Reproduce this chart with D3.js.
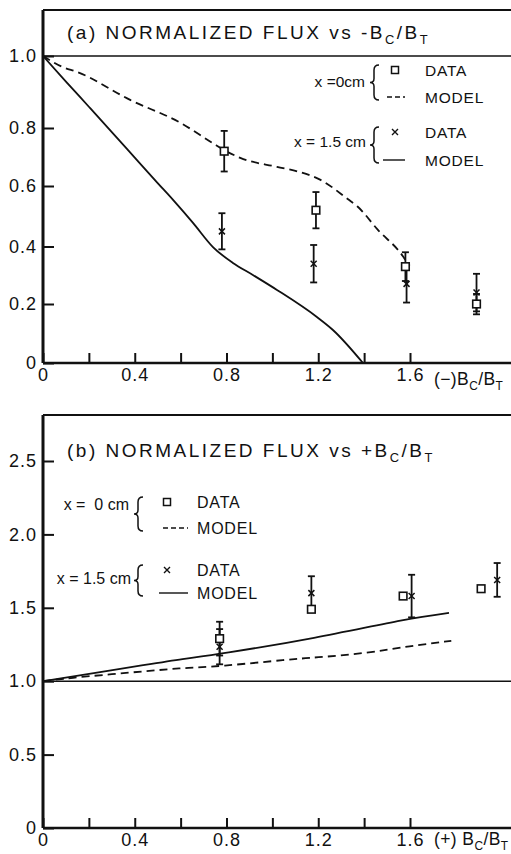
<!DOCTYPE html>
<html><head><meta charset="utf-8">
<script src="https://cdn.jsdelivr.net/npm/d3@7"></script>
<style>
body{margin:0;background:#fff;}
svg{display:block;font-family:"Liberation Sans",Arial,sans-serif;}
</style></head>
<body><svg id="c" width="511" height="854"></svg>
<script>
// ---------- Panel (a) data: normalized flux vs -Bc/Bt ----------
const aSqX   = [0.79, 1.19, 1.58, 1.89];
const aSqY   = [0.72, 0.52, 0.33, 0.20];
const aSqErr = [0.07, 0.06, 0.05, 0.035];
const aCrX   = [0.78, 1.18, 1.585, 1.89];
const aCrY   = [0.45, 0.34, 0.27, 0.24];
const aCrErr = [0.06, 0.065, 0.065, 0.065];
const aDashX = [0, 0.087, 0.148, 0.38, 0.6, 0.74, 0.79, 0.86, 1.02, 1.12, 1.21, 1.33, 1.37, 1.46, 1.57, 1.58];
const aDashY = [1.0, 0.969, 0.956, 0.878, 0.814, 0.748, 0.724, 0.697, 0.666, 0.648, 0.621, 0.556, 0.533, 0.455, 0.365, 0.353];
const aSolX  = [0, 0.1, 0.2, 0.3, 0.4, 0.5, 0.567, 0.654, 0.741, 0.828, 0.915, 1.02, 1.194, 1.264, 1.395];
const aSolY  = [1.0, 0.929, 0.859, 0.786, 0.698, 0.61, 0.554, 0.478, 0.398, 0.343, 0.301, 0.249, 0.156, 0.112, 0];
const aYTicks = [0.2, 0.4, 0.6, 0.8];
const aYLabels = ["0", "0.2", "0.4", "0.6", "0.8", "1.0"];

// ---------- Panel (b) data: normalized flux vs +Bc/Bt ----------
const bSqX   = [0.77, 1.17, 1.57, 1.91];
const bSqY   = [1.29, 1.49, 1.58, 1.63];
const bSqErr = [0.115, 0, 0, 0];
const bCrX   = [0.77, 1.17, 1.607, 1.98];
const bCrY   = [1.235, 1.60, 1.58, 1.69];
const bCrErr = [0.12, 0.115, 0.145, 0.115];
const bDashX = [0, 0.1, 0.39, 0.6, 0.77, 1.08, 1.18, 1.41, 1.6, 1.78];
const bDashY = [1.0, 1.02, 1.06, 1.09, 1.10, 1.15, 1.16, 1.19, 1.24, 1.275];
const bSolX  = [0, 0.1, 0.48, 0.6, 0.77, 1.18, 1.6, 1.77];
const bSolY  = [1.0, 1.025, 1.12, 1.15, 1.185, 1.29, 1.43, 1.465];
const bYTicks = [0.5, 1.5, 2.0, 2.5];
const bYLabels = ["0", "0.5", "1.0", "1.5", "2.0", "2.5"];

const xTicks = [0, 0.2, 0.4, 0.6, 0.8, 1.0, 1.2, 1.4, 1.6];
const xLabels = {0: "0", 0.4: "0.4", 0.8: "0.8", 1.2: "1.2", 1.6: "1.6"};

const W = 511;
const svg = d3.select("#c");

const x = d3.scaleLinear().domain([0, 1.6]).range([43, 410]);
// hand-drawn original has slightly uneven tick spacing in (a)
const yA = d3.scaleLinear().domain([0, 0.2, 0.4, 0.6, 0.8, 1.0, 1.128]).range([363, 304, 246.5, 186, 128, 56, 10]);
const yB = d3.scaleLinear().domain([0, 2.5, 2.813]).range([828, 461, 415]);

function fmtLabel(v, labels) {
  const s = labels.find(l => Math.abs(parseFloat(l) - v) < 1e-9);
  return s || "";
}

function addBcBt(t, prefix, fs) {
  t.append("tspan").text(prefix + "B");
  t.append("tspan").attr("font-size", fs * 0.68).attr("dy", fs * 0.28).text("C");
  t.append("tspan").attr("dy", -fs * 0.28).text("/B");
  t.append("tspan").attr("font-size", fs * 0.68).attr("dy", fs * 0.28).text("T");
}

function brace(g, cx, y0, y1, w) {
  const m = (y0 + y1) / 2;
  g.append("path")
    .attr("d", `M${cx + w},${y0} Q${cx},${y0} ${cx},${y0 + 5} L${cx},${m - 4} Q${cx},${m} ${cx - w * 0.8},${m} Q${cx},${m} ${cx},${m + 4} L${cx},${y1 - 5} Q${cx},${y1} ${cx + w},${y1}`)
    .attr("fill", "none").attr("stroke", "#111").attr("stroke-width", 1.5);
}

function panel(cfg) {
  const g = svg.append("g");
  const y = cfg.y;
  const yTop = y.domain()[y.domain().length - 1];
  // frame
  g.append("line").attr("x1", x(0)).attr("x2", W).attr("y1", y(yTop)).attr("y2", y(yTop)).attr("stroke", "#111").attr("stroke-width", 2.2);
  g.append("line").attr("x1", x(0)).attr("x2", x(0)).attr("y1", y(yTop)).attr("y2", y(0)).attr("stroke", "#111").attr("stroke-width", 3);
  g.append("line").attr("x1", x(0)).attr("x2", W).attr("y1", y(0)).attr("y2", y(0)).attr("stroke", "#111").attr("stroke-width", 2.6);
  g.append("line").attr("x1", x(0)).attr("x2", W).attr("y1", y(1)).attr("y2", y(1)).attr("stroke", "#111").attr("stroke-width", 1.6);

  // x axis
  const xa = g.append("g").attr("transform", `translate(0,${y(0)})`)
    .call(d3.axisBottom(x).tickValues(xTicks).tickSizeInner(-10).tickSizeOuter(0).tickPadding(5)
      .tickFormat(v => xLabels[Math.round(v * 10) / 10] || ""));
  xa.select(".domain").remove();
  xa.selectAll(".tick line").attr("stroke", "#111").attr("stroke-width", 2);
  xa.selectAll(".tick text").attr("font-size", 18).attr("fill", "#111").attr("letter-spacing", 1)
    .attr("font-family", '"Liberation Sans",Arial,sans-serif');

  // y axis
  const ya = g.append("g").attr("transform", `translate(${x(0)},0)`)
    .call(d3.axisLeft(y).tickValues([0, 1].concat(cfg.yTicks)).tickSizeInner(-11).tickSizeOuter(0).tickPadding(6)
      .tickFormat(v => fmtLabel(v, cfg.yLabels)));
  ya.select(".domain").remove();
  ya.selectAll(".tick line").attr("stroke", "#111").attr("stroke-width", 2);
  ya.selectAll(".tick text").attr("font-size", 18).attr("fill", "#111").attr("letter-spacing", 1)
    .attr("font-family", '"Liberation Sans",Arial,sans-serif');

  // x axis label
  const xl = g.append("text").attr("x", 434).attr("y", y(0) + cfg.xlabDy).attr("font-size", 17.5).attr("fill", "#111").attr("letter-spacing", 0.4);
  addBcBt(xl, cfg.xlab, 17.5);

  // title
  const tt = g.append("text").attr("x", 67).attr("y", cfg.titleY).attr("font-size", 19).attr("fill", "#111").attr("letter-spacing", 2.5);
  addBcBt(tt, cfg.title, 19);

  // models
  const line = d3.line().x(d => x(d[0])).y(d => y(d[1])).curve(cfg.curve);
  g.append("path").attr("d", line(d3.zip(cfg.dashX, cfg.dashY))).attr("fill", "none")
    .attr("stroke", "#111").attr("stroke-width", 1.8).attr("stroke-dasharray", "8,5");
  g.append("path").attr("d", line(d3.zip(cfg.solX, cfg.solY))).attr("fill", "none")
    .attr("stroke", "#111").attr("stroke-width", 1.8);

  // error bars
  function errbars(xs, ys, es) {
    xs.forEach((xv, i) => {
      if (!es[i]) return;
      const px = x(xv), t = y(ys[i] + es[i]), b = y(ys[i] - es[i]);
      g.append("line").attr("x1", px).attr("x2", px).attr("y1", t).attr("y2", b).attr("stroke", "#111").attr("stroke-width", 1.8);
      [t, b].forEach(yy => g.append("line").attr("x1", px - 3.5).attr("x2", px + 3.5).attr("y1", yy).attr("y2", yy).attr("stroke", "#111").attr("stroke-width", 1.8));
    });
  }
  errbars(cfg.crX, cfg.crY, cfg.crErr);
  errbars(cfg.sqX, cfg.sqY, cfg.sqErr);

  // squares
  cfg.sqX.forEach((xv, i) => {
    g.append("rect").attr("x", x(xv) - 3.8).attr("y", y(cfg.sqY[i]) - 3.8).attr("width", 7.6).attr("height", 7.6)
      .attr("fill", "#fff").attr("stroke", "#111").attr("stroke-width", 1.6);
  });
  // crosses
  cfg.crX.forEach((xv, i) => {
    const px = x(xv), py = y(cfg.crY[i]), s = 3;
    g.append("path").attr("d", `M${px - s},${py - s}L${px + s},${py + s}M${px - s},${py + s}L${px + s},${py - s}`)
      .attr("stroke", "#111").attr("stroke-width", 1.5).attr("fill", "none");
  });

  // legend
  const L = cfg.leg;
  const lg = g.append("g").attr("fill", "#111").attr("font-size", L.fs);
  lg.append("text").attr("x", L.lab1X).attr("y", L.lab1Y).attr("text-anchor", "end").attr("xml:space", "preserve").text(L.lab1);
  brace(lg, L.braceX, L.r1 - 5, L.r2 + 3, 5);
  lg.append("rect").attr("x", L.symX - 3.5).attr("y", L.r1 - 3.5).attr("width", 7).attr("height", 7).attr("fill", "none").attr("stroke", "#111").attr("stroke-width", 1.5);
  lg.append("line").attr("x1", L.lineX0).attr("x2", L.lineX1).attr("y1", L.r2).attr("y2", L.r2).attr("stroke", "#111").attr("stroke-width", 1.4).attr("stroke-dasharray", "5,3");
  lg.append("text").attr("x", L.textX).attr("y", L.r1 + L.fs * 0.36).attr("letter-spacing", 0.8).text("DATA");
  lg.append("text").attr("x", L.textX).attr("y", L.r2 + L.fs * 0.36).attr("letter-spacing", 0.8).text("MODEL");

  lg.append("text").attr("x", L.lab2X).attr("y", L.lab2Y).attr("text-anchor", "end").attr("xml:space", "preserve").text(L.lab2);
  brace(lg, L.braceX, L.r3 - 5, L.r4 + 3, 5);
  const cx = L.symX, cy = L.r3;
  lg.append("path").attr("d", `M${cx - 3},${cy - 3}L${cx + 3},${cy + 3}M${cx - 3},${cy + 3}L${cx + 3},${cy - 3}`).attr("stroke", "#111").attr("stroke-width", 1.4);
  lg.append("line").attr("x1", L.lineX0 - 4).attr("x2", L.lineX1).attr("y1", L.r4).attr("y2", L.r4).attr("stroke", "#111").attr("stroke-width", 1.4);
  lg.append("text").attr("x", L.textX).attr("y", L.r3 + L.fs * 0.36).attr("letter-spacing", 0.8).text("DATA");
  lg.append("text").attr("x", L.textX).attr("y", L.r4 + L.fs * 0.36).attr("letter-spacing", 0.8).text("MODEL");
}

panel({
  y: yA, yTicks: aYTicks, yLabels: aYLabels, curve: d3.curveMonotoneX,
  title: "(a) NORMALIZED FLUX vs -", titleY: 39,
  xlab: "(\u2212)", xlabDy: 22,
  sqX: aSqX, sqY: aSqY, sqErr: aSqErr, crX: aCrX, crY: aCrY, crErr: aCrErr,
  dashX: aDashX, dashY: aDashY, solX: aSolX, solY: aSolY,
  leg: {fs: 15.5, lab1: "x =0cm", lab1X: 365, lab1Y: 87, lab2: "x = 1.5 cm", lab2X: 366, lab2Y: 147,
        braceX: 374, symX: 395, lineX0: 387, lineX1: 405, textX: 425, r1: 70, r2: 97, r3: 132, r4: 160}
});

panel({
  y: yB, yTicks: bYTicks, yLabels: bYLabels, curve: d3.curveBasis,
  title: "(b) NORMALIZED FLUX vs +", titleY: 457,
  xlab: "(+) ", xlabDy: 17,
  sqX: bSqX, sqY: bSqY, sqErr: bSqErr, crX: bCrX, crY: bCrY, crErr: bCrErr,
  dashX: bDashX, dashY: bDashY, solX: bSolX, solY: bSolY,
  leg: {fs: 16, lab1: "x =  0 cm", lab1X: 129, lab1Y: 510, lab2: "x = 1.5 cm", lab2X: 131, lab2Y: 584,
        braceX: 138, symX: 167, lineX0: 163, lineX1: 188, textX: 197, r1: 502, r2: 528, r3: 570, r4: 593}
});
</script>
</body></html>
